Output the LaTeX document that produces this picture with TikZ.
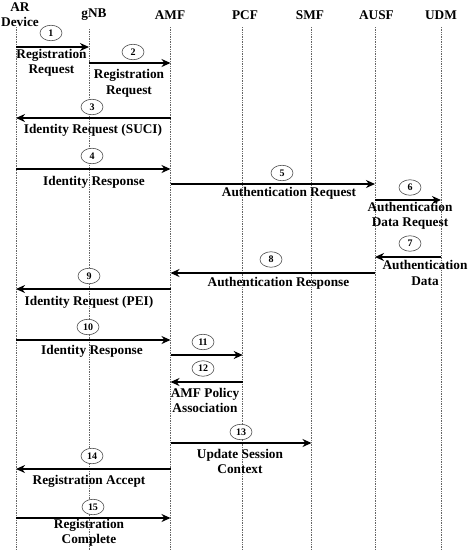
\documentclass[tikz,border=0pt]{standalone}
\usepackage{fontspec}
\setmainfont{Liberation Serif}
\usetikzlibrary{arrows.meta,shapes.geometric}
\tikzset{
  life/.style={densely dotted, gray!80!black, line width=0.7pt},
  msg/.style={line width=1.7pt, -{Stealth[length=9pt,width=8pt]}},
  lbl/.style={font=\fontsize{13.3}{15.5}\selectfont\bfseries, align=center, inner sep=0pt},
  hdr/.style={font=\fontsize{13.3}{15}\selectfont\bfseries, align=center, inner sep=0pt},
  num/.style={ellipse, draw=gray!60!black, line width=0.6pt, fill=white, minimum width=22pt, minimum height=15.5pt, inner sep=0pt, font=\fontsize{10}{10}\selectfont\bfseries}
}
\begin{document}
\begin{tikzpicture}[x=1pt,y=-1pt]
\useasboundingbox (0,0) rectangle (471,550);
\def\xA{16}\def\xB{89}\def\xC{170.5}\def\xD{242.7}\def\xE{311.5}\def\xF{375}\def\xG{441}
% headers
\node[hdr] (hAR) at (20,14.5) {AR\\Device};
\node[hdr] (hgNB) at (94,15) {gNB};
\node[hdr] (hAMF) at (170,15) {AMF};
\node[hdr] (hPCF) at (245,15) {PCF};
\node[hdr] (hSMF) at (310,15) {SMF};
\node[hdr] (hAUSF) at (376.5,15) {AUSF};
\node[hdr] (hUDM) at (441,15) {UDM};
% lifelines
\coordinate (tA) at (\xA,27); \coordinate (bA) at (\xA,550);
\coordinate (tB) at (\xB,29); \coordinate (bB) at (\xB,550);
\coordinate (tC) at (\xC,27); \coordinate (bC) at (\xC,550);
\coordinate (tD) at (\xD,27); \coordinate (bD) at (\xD,550);
\coordinate (tE) at (\xE,27); \coordinate (bE) at (\xE,550);
\coordinate (tF) at (\xF,27); \coordinate (bF) at (\xF,550);
\coordinate (tG) at (\xG,27); \coordinate (bG) at (\xG,550);
\foreach \l in {A,B,C,D,E,F,G} \draw[life] (t\l) -- (b\l);
% message 1
\coordinate (s1) at (\xA,47); \coordinate (e1) at (\xB,47);
\draw[msg] (s1) -- (e1);
\node[num] (n1) at (51,33) {1};
\node[lbl] (l1) at (51.5,63) {Registration\\Request};
% message 2
\coordinate (s2) at (\xB,63); \coordinate (e2) at (\xC,63);
\draw[msg] (s2) -- (e2);
\node[num] (n2) at (133,52) {2};
\node[lbl] (l2) at (129,83.5) {Registration\\Request};
% message 3
\coordinate (s3) at (\xC,118); \coordinate (e3) at (\xA,118);
\draw[msg] (s3) -- (e3);
\node[num] (n3) at (92,107) {3};
\node[lbl] (l3) at (93,130) {Identity Request (SUCI)};
% message 4
\coordinate (s4) at (\xA,169); \coordinate (e4) at (\xC,169);
\draw[msg] (s4) -- (e4);
\node[num] (n4) at (92,156) {4};
\node[lbl] (l4) at (94,182) {Identity Response};
% message 5
\coordinate (s5) at (\xC,184); \coordinate (e5) at (\xF,184);
\draw[msg] (s5) -- (e5);
\node[num] (n5) at (282,173) {5};
\node[lbl] (l5) at (289,193.5) {Authentication Request};
% message 6
\coordinate (s6) at (\xF,200); \coordinate (e6) at (\xG,200);
\draw[msg] (s6) -- (e6);
\node[num] (n6) at (410,187.5) {6};
\node[lbl] (l6) at (410,216) {Authentication\\Data Request};
% message 7
\coordinate (s7) at (\xG,257); \coordinate (e7) at (\xF,257);
\draw[msg] (s7) -- (e7);
\node[num] (n7) at (410,243.5) {7};
\node[lbl] (l7) at (425,273) {Authentication\\Data};
% message 8
\coordinate (s8) at (\xF,273); \coordinate (e8) at (\xC,273);
\draw[msg] (s8) -- (e8);
\node[num] (n8) at (271,259.5) {8};
\node[lbl] (l8) at (278.5,283.5) {Authentication Response};
% message 9
\coordinate (s9) at (\xC,289); \coordinate (e9) at (\xA,289);
\draw[msg] (s9) -- (e9);
\node[num] (n9) at (89,276) {9};
\node[lbl] (l9) at (89,302) {Identity Request (PEI)};
% message 10
\coordinate (s10) at (\xA,340); \coordinate (e10) at (\xC,340);
\draw[msg] (s10) -- (e10);
\node[num] (n10) at (88,327) {10};
\node[lbl] (l10) at (92,351) {Identity Response};
% message 11
\coordinate (s11) at (\xC,355); \coordinate (e11) at (\xD,355);
\draw[msg] (s11) -- (e11);
\node[num] (n11) at (203,342) {11};
% message 12
\coordinate (s12) at (\xD,382); \coordinate (e12) at (\xC,382);
\draw[msg] (s12) -- (e12);
\node[num] (n12) at (203,368.5) {12};
\node[lbl] (l12) at (205,400.5) {AMF Policy\\Association};
% message 13
\coordinate (s13) at (\xC,443); \coordinate (e13) at (\xE,443);
\draw[msg] (s13) -- (e13);
\node[num] (n13) at (241,432) {13};
\node[lbl] (l13) at (240,461.5) {Update Session\\Context};
% message 14
\coordinate (s14) at (\xC,469); \coordinate (e14) at (\xA,469);
\draw[msg] (s14) -- (e14);
\node[num] (n14) at (92,456) {14};
\node[lbl] (l14) at (89,481) {Registration Accept};
% message 15
\coordinate (s15) at (\xA,518); \coordinate (e15) at (\xC,518);
\draw[msg] (s15) -- (e15);
\node[num] (n15) at (93,507) {15};
\node[lbl] (l15) at (89,533) {Registration\\Complete};
\end{tikzpicture}
\end{document}
